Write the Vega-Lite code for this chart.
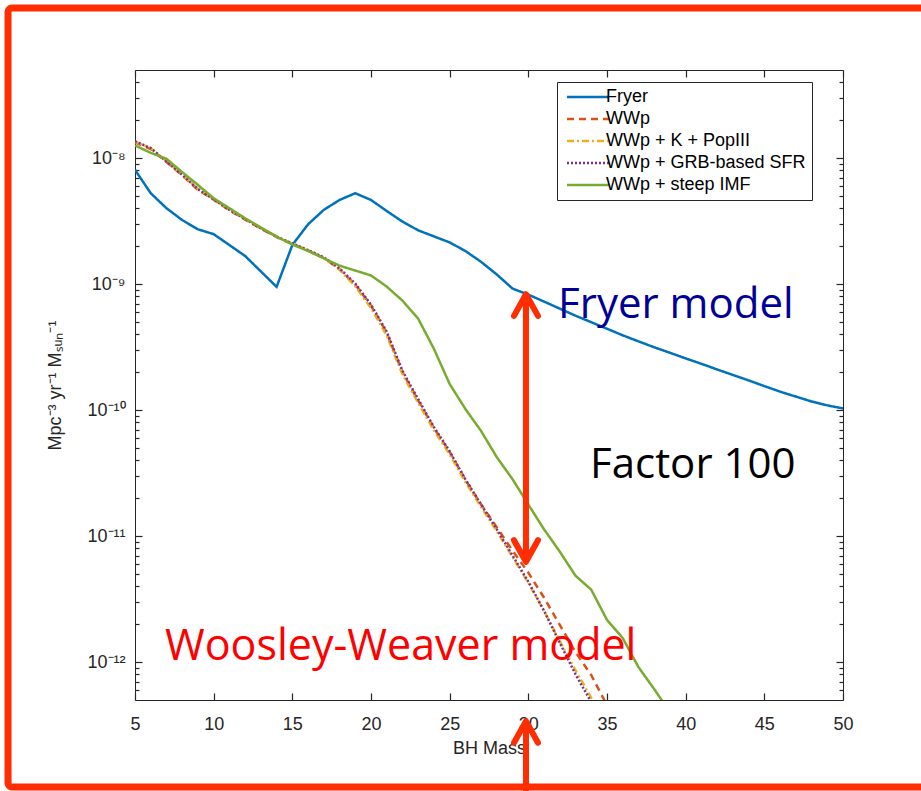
{
  "$schema": "https://vega.github.io/schema/vega-lite/v6.json",
  "width": 708,
  "height": 630,
  "autosize": {"type": "none"},
  "padding": {"left": 135, "top": 70, "right": 78, "bottom": 91},
  "background": "#ffffff",
  "config": {
    "view": {"stroke": null},
    "legend": {
      "strokeColor": "#262626", "fillColor": "#ffffff", "padding": 6,
      "labelFont": "Liberation Sans", "labelFontSize": 18, "labelColor": "#000000",
      "labelLimit": 400
    }
  },
  "datasets": {
    "curves": [
      {"model": "Fryer", "mass": 5, "rate": 8.07e-9},
      {"model": "Fryer", "mass": 6, "rate": 5.26e-9},
      {"model": "Fryer", "mass": 7, "rate": 4.0e-9},
      {"model": "Fryer", "mass": 8, "rate": 3.22e-9},
      {"model": "Fryer", "mass": 9, "rate": 2.72e-9},
      {"model": "Fryer", "mass": 10, "rate": 2.49e-9},
      {"model": "Fryer", "mass": 11, "rate": 2.04e-9},
      {"model": "Fryer", "mass": 12, "rate": 1.67e-9},
      {"model": "Fryer", "mass": 13, "rate": 1.26e-9},
      {"model": "Fryer", "mass": 14, "rate": 9.5e-10},
      {"model": "Fryer", "mass": 15, "rate": 2.04e-9},
      {"model": "Fryer", "mass": 16, "rate": 2.98e-9},
      {"model": "Fryer", "mass": 17, "rate": 3.88e-9},
      {"model": "Fryer", "mass": 18, "rate": 4.65e-9},
      {"model": "Fryer", "mass": 19, "rate": 5.26e-9},
      {"model": "Fryer", "mass": 20, "rate": 4.65e-9},
      {"model": "Fryer", "mass": 21, "rate": 3.8e-9},
      {"model": "Fryer", "mass": 22, "rate": 3.13e-9},
      {"model": "Fryer", "mass": 23, "rate": 2.67e-9},
      {"model": "Fryer", "mass": 24, "rate": 2.39e-9},
      {"model": "Fryer", "mass": 25, "rate": 2.14e-9},
      {"model": "Fryer", "mass": 26, "rate": 1.83e-9},
      {"model": "Fryer", "mass": 27, "rate": 1.5e-9},
      {"model": "Fryer", "mass": 28, "rate": 1.19e-9},
      {"model": "Fryer", "mass": 29, "rate": 9.2e-10},
      {"model": "Fryer", "mass": 30, "rate": 8.25e-10},
      {"model": "Fryer", "mass": 31, "rate": 7.26e-10},
      {"model": "Fryer", "mass": 32, "rate": 6.38e-10},
      {"model": "Fryer", "mass": 33, "rate": 5.61e-10},
      {"model": "Fryer", "mass": 34, "rate": 4.98e-10},
      {"model": "Fryer", "mass": 35, "rate": 4.42e-10},
      {"model": "Fryer", "mass": 36, "rate": 3.92e-10},
      {"model": "Fryer", "mass": 37, "rate": 3.51e-10},
      {"model": "Fryer", "mass": 38, "rate": 3.15e-10},
      {"model": "Fryer", "mass": 39, "rate": 2.85e-10},
      {"model": "Fryer", "mass": 40, "rate": 2.57e-10},
      {"model": "Fryer", "mass": 41, "rate": 2.33e-10},
      {"model": "Fryer", "mass": 42, "rate": 2.1e-10},
      {"model": "Fryer", "mass": 43, "rate": 1.9e-10},
      {"model": "Fryer", "mass": 44, "rate": 1.72e-10},
      {"model": "Fryer", "mass": 45, "rate": 1.55e-10},
      {"model": "Fryer", "mass": 46, "rate": 1.4e-10},
      {"model": "Fryer", "mass": 47, "rate": 1.28e-10},
      {"model": "Fryer", "mass": 48, "rate": 1.17e-10},
      {"model": "Fryer", "mass": 49, "rate": 1.09e-10},
      {"model": "Fryer", "mass": 50, "rate": 1.03e-10},

      {"model": "WWp", "mass": 5, "rate": 1.33e-8},
      {"model": "WWp", "mass": 6, "rate": 1.18e-8},
      {"model": "WWp", "mass": 7, "rate": 9.3e-9},
      {"model": "WWp", "mass": 8, "rate": 7.3e-9},
      {"model": "WWp", "mass": 9, "rate": 5.6e-9},
      {"model": "WWp", "mass": 10, "rate": 4.67e-9},
      {"model": "WWp", "mass": 11, "rate": 3.85e-9},
      {"model": "WWp", "mass": 12, "rate": 3.25e-9},
      {"model": "WWp", "mass": 13, "rate": 2.75e-9},
      {"model": "WWp", "mass": 14, "rate": 2.36e-9},
      {"model": "WWp", "mass": 15, "rate": 2.08e-9},
      {"model": "WWp", "mass": 16, "rate": 1.84e-9},
      {"model": "WWp", "mass": 17, "rate": 1.61e-9},
      {"model": "WWp", "mass": 18, "rate": 1.31e-9},
      {"model": "WWp", "mass": 19, "rate": 9.9e-10},
      {"model": "WWp", "mass": 20, "rate": 6.75e-10},
      {"model": "WWp", "mass": 21, "rate": 4.1e-10},
      {"model": "WWp", "mass": 22, "rate": 2.0e-10},
      {"model": "WWp", "mass": 23, "rate": 1.19e-10},
      {"model": "WWp", "mass": 24, "rate": 7.2e-11},
      {"model": "WWp", "mass": 25, "rate": 4.65e-11},
      {"model": "WWp", "mass": 26, "rate": 2.8e-11},
      {"model": "WWp", "mass": 27, "rate": 1.78e-11},
      {"model": "WWp", "mass": 28, "rate": 1.17e-11},
      {"model": "WWp", "mass": 29, "rate": 7.66e-12},
      {"model": "WWp", "mass": 30, "rate": 5.12e-12},
      {"model": "WWp", "mass": 31, "rate": 3.24e-12},
      {"model": "WWp", "mass": 32, "rate": 1.97e-12},
      {"model": "WWp", "mass": 33, "rate": 1.2e-12},
      {"model": "WWp", "mass": 34, "rate": 7.87e-13},
      {"model": "WWp", "mass": 35, "rate": 4.54e-13},

      {"model": "WWp + K + PopIII", "mass": 5, "rate": 1.35e-8},
      {"model": "WWp + K + PopIII", "mass": 6, "rate": 1.2e-8},
      {"model": "WWp + K + PopIII", "mass": 7, "rate": 9.45e-9},
      {"model": "WWp + K + PopIII", "mass": 8, "rate": 7.4e-9},
      {"model": "WWp + K + PopIII", "mass": 9, "rate": 5.7e-9},
      {"model": "WWp + K + PopIII", "mass": 10, "rate": 4.72e-9},
      {"model": "WWp + K + PopIII", "mass": 11, "rate": 3.9e-9},
      {"model": "WWp + K + PopIII", "mass": 12, "rate": 3.29e-9},
      {"model": "WWp + K + PopIII", "mass": 13, "rate": 2.78e-9},
      {"model": "WWp + K + PopIII", "mass": 14, "rate": 2.38e-9},
      {"model": "WWp + K + PopIII", "mass": 15, "rate": 2.1e-9},
      {"model": "WWp + K + PopIII", "mass": 16, "rate": 1.86e-9},
      {"model": "WWp + K + PopIII", "mass": 17, "rate": 1.62e-9},
      {"model": "WWp + K + PopIII", "mass": 18, "rate": 1.3e-9},
      {"model": "WWp + K + PopIII", "mass": 19, "rate": 9.6e-10},
      {"model": "WWp + K + PopIII", "mass": 20, "rate": 6.45e-10},
      {"model": "WWp + K + PopIII", "mass": 21, "rate": 3.9e-10},
      {"model": "WWp + K + PopIII", "mass": 22, "rate": 1.92e-10},
      {"model": "WWp + K + PopIII", "mass": 23, "rate": 1.14e-10},
      {"model": "WWp + K + PopIII", "mass": 24, "rate": 6.9e-11},
      {"model": "WWp + K + PopIII", "mass": 25, "rate": 4.45e-11},
      {"model": "WWp + K + PopIII", "mass": 26, "rate": 2.68e-11},
      {"model": "WWp + K + PopIII", "mass": 27, "rate": 1.7e-11},
      {"model": "WWp + K + PopIII", "mass": 28, "rate": 1.09e-11},
      {"model": "WWp + K + PopIII", "mass": 29, "rate": 6.8e-12},
      {"model": "WWp + K + PopIII", "mass": 30, "rate": 4.25e-12},
      {"model": "WWp + K + PopIII", "mass": 31, "rate": 2.55e-12},
      {"model": "WWp + K + PopIII", "mass": 32, "rate": 1.46e-12},
      {"model": "WWp + K + PopIII", "mass": 33, "rate": 8.6e-13},
      {"model": "WWp + K + PopIII", "mass": 34, "rate": 5.2e-13},
      {"model": "WWp + K + PopIII", "mass": 35, "rate": 3.1e-13},

      {"model": "WWp + GRB-based SFR", "mass": 5, "rate": 1.36e-8},
      {"model": "WWp + GRB-based SFR", "mass": 6, "rate": 1.2e-8},
      {"model": "WWp + GRB-based SFR", "mass": 7, "rate": 9.4e-9},
      {"model": "WWp + GRB-based SFR", "mass": 8, "rate": 7.36e-9},
      {"model": "WWp + GRB-based SFR", "mass": 9, "rate": 5.66e-9},
      {"model": "WWp + GRB-based SFR", "mass": 10, "rate": 4.71e-9},
      {"model": "WWp + GRB-based SFR", "mass": 11, "rate": 3.88e-9},
      {"model": "WWp + GRB-based SFR", "mass": 12, "rate": 3.28e-9},
      {"model": "WWp + GRB-based SFR", "mass": 13, "rate": 2.77e-9},
      {"model": "WWp + GRB-based SFR", "mass": 14, "rate": 2.38e-9},
      {"model": "WWp + GRB-based SFR", "mass": 15, "rate": 2.1e-9},
      {"model": "WWp + GRB-based SFR", "mass": 16, "rate": 1.86e-9},
      {"model": "WWp + GRB-based SFR", "mass": 17, "rate": 1.63e-9},
      {"model": "WWp + GRB-based SFR", "mass": 18, "rate": 1.33e-9},
      {"model": "WWp + GRB-based SFR", "mass": 19, "rate": 1.01e-9},
      {"model": "WWp + GRB-based SFR", "mass": 20, "rate": 6.87e-10},
      {"model": "WWp + GRB-based SFR", "mass": 21, "rate": 4.19e-10},
      {"model": "WWp + GRB-based SFR", "mass": 22, "rate": 2.05e-10},
      {"model": "WWp + GRB-based SFR", "mass": 23, "rate": 1.22e-10},
      {"model": "WWp + GRB-based SFR", "mass": 24, "rate": 7.33e-11},
      {"model": "WWp + GRB-based SFR", "mass": 25, "rate": 4.71e-11},
      {"model": "WWp + GRB-based SFR", "mass": 26, "rate": 2.82e-11},
      {"model": "WWp + GRB-based SFR", "mass": 27, "rate": 1.78e-11},
      {"model": "WWp + GRB-based SFR", "mass": 28, "rate": 1.13e-11},
      {"model": "WWp + GRB-based SFR", "mass": 29, "rate": 7.0e-12},
      {"model": "WWp + GRB-based SFR", "mass": 30, "rate": 4.34e-12},
      {"model": "WWp + GRB-based SFR", "mass": 31, "rate": 2.55e-12},
      {"model": "WWp + GRB-based SFR", "mass": 32, "rate": 1.42e-12},
      {"model": "WWp + GRB-based SFR", "mass": 33, "rate": 8.0e-13},
      {"model": "WWp + GRB-based SFR", "mass": 34, "rate": 4.8e-13},

      {"model": "WWp + steep IMF", "mass": 5, "rate": 1.26e-8},
      {"model": "WWp + steep IMF", "mass": 6, "rate": 1.1e-8},
      {"model": "WWp + steep IMF", "mass": 7, "rate": 9.87e-9},
      {"model": "WWp + steep IMF", "mass": 8, "rate": 7.73e-9},
      {"model": "WWp + steep IMF", "mass": 9, "rate": 6.12e-9},
      {"model": "WWp + steep IMF", "mass": 10, "rate": 4.8e-9},
      {"model": "WWp + steep IMF", "mass": 11, "rate": 4.0e-9},
      {"model": "WWp + steep IMF", "mass": 12, "rate": 3.33e-9},
      {"model": "WWp + steep IMF", "mass": 13, "rate": 2.81e-9},
      {"model": "WWp + steep IMF", "mass": 14, "rate": 2.38e-9},
      {"model": "WWp + steep IMF", "mass": 15, "rate": 2.06e-9},
      {"model": "WWp + steep IMF", "mass": 16, "rate": 1.83e-9},
      {"model": "WWp + steep IMF", "mass": 17, "rate": 1.6e-9},
      {"model": "WWp + steep IMF", "mass": 18, "rate": 1.4e-9},
      {"model": "WWp + steep IMF", "mass": 19, "rate": 1.28e-9},
      {"model": "WWp + steep IMF", "mass": 20, "rate": 1.17e-9},
      {"model": "WWp + steep IMF", "mass": 21, "rate": 9.55e-10},
      {"model": "WWp + steep IMF", "mass": 22, "rate": 7.39e-10},
      {"model": "WWp + steep IMF", "mass": 23, "rate": 5.31e-10},
      {"model": "WWp + steep IMF", "mass": 24, "rate": 3.06e-10},
      {"model": "WWp + steep IMF", "mass": 25, "rate": 1.61e-10},
      {"model": "WWp + steep IMF", "mass": 26, "rate": 1.02e-10},
      {"model": "WWp + steep IMF", "mass": 27, "rate": 6.81e-11},
      {"model": "WWp + steep IMF", "mass": 28, "rate": 4.22e-11},
      {"model": "WWp + steep IMF", "mass": 29, "rate": 2.82e-11},
      {"model": "WWp + steep IMF", "mass": 30, "rate": 1.78e-11},
      {"model": "WWp + steep IMF", "mass": 31, "rate": 1.13e-11},
      {"model": "WWp + steep IMF", "mass": 32, "rate": 7.52e-12},
      {"model": "WWp + steep IMF", "mass": 33, "rate": 4.84e-12},
      {"model": "WWp + steep IMF", "mass": 34, "rate": 3.75e-12},
      {"model": "WWp + steep IMF", "mass": 35, "rate": 2.16e-12},
      {"model": "WWp + steep IMF", "mass": 36, "rate": 1.55e-12},
      {"model": "WWp + steep IMF", "mass": 37, "rate": 9.12e-13},
      {"model": "WWp + steep IMF", "mass": 38, "rate": 6.1e-13},
      {"model": "WWp + steep IMF", "mass": 39, "rate": 4.0e-13}
    ],
    "notes": [
      {"label": "Fryer model", "mass": 31.89, "rate": 5.37e-10},
      {"label": "Factor 100", "mass": 33.92, "rate": 2.88e-11},
      {"label": "Woosley-Weaver model", "mass": 6.91, "rate": 1.04e-12}
    ],
    "arrows": [
      {"mass": 29.85, "top": 8.3e-10, "bottom": 6.25e-12},
      {"mass": 29.85, "top": 3.4e-13, "bottom": 8e-14}
    ],
    "heads": [
      {"mass": 29.85, "rate": 8.3e-10, "dir": "up"},
      {"mass": 29.85, "rate": 6.25e-12, "dir": "down"},
      {"mass": 29.85, "rate": 3.4e-13, "dir": "up"}
    ]
  },
  "resolve": {"axis": {"x": "independent", "y": "independent"}},
  "layer": [
    {
      "data": {"values": [{}]},
      "mark": {"type": "rect", "fill": null, "stroke": "#FF2D00", "strokeWidth": 7, "cornerRadius": 4},
      "encoding": {
        "x": {"datum": -3.07, "type": "quantitative", "scale": {"domain": [5, 50], "nice": false, "zero": false}, "axis": null},
        "x2": {"datum": 60},
        "y": {"datum": 1.55e-7, "type": "quantitative", "scale": {"type": "log", "domain": [5e-13, 5e-8], "nice": false}, "axis": null},
        "y2": {"datum": 1.02e-13}
      }
    },
    {
      "data": {"name": "curves"},
      "mark": {"type": "line", "clip": true, "strokeWidth": 2.5},
      "encoding": {
        "x": {"field": "mass", "type": "quantitative",
          "scale": {"domain": [5, 50], "nice": false, "zero": false},
          "axis": {"orient": "bottom", "values": [5, 10, 15, 20, 25, 30, 35, 40, 45, 50],
            "grid": false, "domainColor": "#262626", "domainWidth": 1, "tickColor": "#262626", "tickWidth": 1.2, "tickSize": -7,
            "labelFont": "Liberation Sans", "labelFontSize": 18, "labelColor": "#262626", "labelPadding": 22, "labelFlush": false, "labelOverlap": false,
            "title": "BH Mass", "titleFont": "Liberation Sans", "titleFontSize": 18, "titleFontWeight": "normal", "titleColor": "#262626", "titlePadding": 6}},
        "y": {"field": "rate", "type": "quantitative",
          "scale": {"type": "log", "domain": [5e-13, 5e-8], "nice": false},
          "axis": {"orient": "left",
            "values": [6e-13, 7e-13, 8e-13, 9e-13, 1e-12, 2e-12, 3e-12, 4e-12, 5e-12, 6e-12, 7e-12, 8e-12, 9e-12, 1e-11, 2e-11, 3e-11, 4e-11, 5e-11, 6e-11, 7e-11, 8e-11, 9e-11, 1e-10, 2e-10, 3e-10, 4e-10, 5e-10, 6e-10, 7e-10, 8e-10, 9e-10, 1e-9, 2e-9, 3e-9, 4e-9, 5e-9, 6e-9, 7e-9, 8e-9, 9e-9, 1e-8, 2e-8, 3e-8, 4e-8],
            "grid": false, "domainColor": "#262626", "domainWidth": 1, "tickColor": "#262626", "tickWidth": 1.2,
            "tickSize": {"condition": {"test": "abs(log(datum.value)/LN10 - round(log(datum.value)/LN10)) < 1e-6", "value": -7}, "value": -4},
            "labelExpr": "abs(log(datum.value)/LN10 - round(log(datum.value)/LN10)) < 1e-6 ? ['10⁻¹²','10⁻¹¹','10⁻¹⁰','10⁻⁹','10⁻⁸'][round(log(datum.value)/LN10) + 12] : ''",
            "labelFont": "Liberation Sans", "labelFontSize": 18, "labelColor": "#262626", "labelPadding": 17, "labelFlush": false, "labelOverlap": false,
            "title": "Mpc⁻³ yr⁻¹ Mₛᵤₙ⁻¹", "titleFont": "Liberation Sans", "titleFontSize": 18, "titleFontWeight": "normal", "titleColor": "#262626", "titlePadding": 22}},
        "color": {"field": "model", "type": "nominal",
          "scale": {"domain": ["Fryer", "WWp", "WWp + K + PopIII", "WWp + GRB-based SFR", "WWp + steep IMF"],
                    "range": ["#0072BD", "#D95319", "#EDB120", "#7E2F8E", "#77AC30"]},
          "legend": {"orient": "none", "legendX": 422, "legendY": 12, "title": null,
            "symbolType": "M-4.2,0L4.2,0", "symbolSize": 100, "symbolStrokeWidth": 2.5, "symbolOffset": 16, "labelOffset": 9, "rowPadding": 4}},
        "strokeDash": {"field": "model", "type": "nominal",
          "scale": {"domain": ["Fryer", "WWp", "WWp + K + PopIII", "WWp + GRB-based SFR", "WWp + steep IMF"],
                    "range": [[1, 0], [7, 5], [7, 3, 2, 3], [2, 2], [1, 0]]},
          "legend": {"orient": "none", "legendX": 422, "legendY": 12, "title": null,
            "symbolType": "M-4.2,0L4.2,0", "symbolSize": 100, "symbolStrokeWidth": 2.5, "symbolOffset": 16, "labelOffset": 9, "rowPadding": 4}}
      }
    },
    {
      "data": {"name": "notes"},
      "transform": [{"filter": "datum.label == 'Fryer model'"}],
      "mark": {"type": "text", "align": "left", "baseline": "alphabetic", "font": "Open Sans", "fontSize": 42, "color": "#000099"},
      "encoding": {
        "x": {"field": "mass", "type": "quantitative", "scale": {"domain": [5, 50], "nice": false, "zero": false}, "axis": null},
        "y": {"field": "rate", "type": "quantitative", "scale": {"type": "log", "domain": [5e-13, 5e-8], "nice": false}, "axis": null},
        "text": {"field": "label"}
      }
    },
    {
      "data": {"name": "notes"},
      "transform": [{"filter": "datum.label == 'Factor 100'"}],
      "mark": {"type": "text", "align": "left", "baseline": "alphabetic", "font": "Open Sans", "fontSize": 42, "color": "#000000"},
      "encoding": {
        "x": {"field": "mass", "type": "quantitative", "scale": {"domain": [5, 50], "nice": false, "zero": false}, "axis": null},
        "y": {"field": "rate", "type": "quantitative", "scale": {"type": "log", "domain": [5e-13, 5e-8], "nice": false}, "axis": null},
        "text": {"field": "label"}
      }
    },
    {
      "data": {"name": "notes"},
      "transform": [{"filter": "datum.label == 'Woosley-Weaver model'"}],
      "mark": {"type": "text", "align": "left", "baseline": "alphabetic", "font": "Open Sans", "fontSize": 43, "color": "#FF0000"},
      "encoding": {
        "x": {"field": "mass", "type": "quantitative", "scale": {"domain": [5, 50], "nice": false, "zero": false}, "axis": null},
        "y": {"field": "rate", "type": "quantitative", "scale": {"type": "log", "domain": [5e-13, 5e-8], "nice": false}, "axis": null},
        "text": {"field": "label"}
      }
    },
    {
      "data": {"name": "arrows"},
      "mark": {"type": "rule", "color": "#FF2D00", "strokeWidth": 6, "strokeCap": "butt"},
      "encoding": {
        "x": {"field": "mass", "type": "quantitative",
          "scale": {"domain": [5, 50], "nice": false, "zero": false},
          "axis": {"orient": "top", "values": [5, 10, 15, 20, 25, 30, 35, 40, 45, 50],
            "grid": false, "domainColor": "#262626", "domainWidth": 1, "tickColor": "#262626", "tickWidth": 1.2, "tickSize": -7,
            "labels": false, "title": null}},
        "y": {"field": "top", "type": "quantitative",
          "scale": {"type": "log", "domain": [5e-13, 5e-8], "nice": false},
          "axis": {"orient": "right",
            "values": [6e-13, 7e-13, 8e-13, 9e-13, 1e-12, 2e-12, 3e-12, 4e-12, 5e-12, 6e-12, 7e-12, 8e-12, 9e-12, 1e-11, 2e-11, 3e-11, 4e-11, 5e-11, 6e-11, 7e-11, 8e-11, 9e-11, 1e-10, 2e-10, 3e-10, 4e-10, 5e-10, 6e-10, 7e-10, 8e-10, 9e-10, 1e-9, 2e-9, 3e-9, 4e-9, 5e-9, 6e-9, 7e-9, 8e-9, 9e-9, 1e-8, 2e-8, 3e-8, 4e-8],
            "grid": false, "domainColor": "#262626", "domainWidth": 1, "tickColor": "#262626", "tickWidth": 1.2,
            "tickSize": {"condition": {"test": "abs(log(datum.value)/LN10 - round(log(datum.value)/LN10)) < 1e-6", "value": -7}, "value": -4},
            "labels": false, "title": null}},
        "y2": {"field": "bottom"}
      }
    },
    {
      "data": {"name": "heads"},
      "mark": {"type": "point", "filled": false, "color": "#FF2D00", "strokeWidth": 6, "size": 576, "opacity": 1, "strokeCap": "round", "strokeJoin": "round"},
      "encoding": {
        "x": {"field": "mass", "type": "quantitative", "scale": {"domain": [5, 50], "nice": false, "zero": false}, "axis": null},
        "y": {"field": "rate", "type": "quantitative", "scale": {"type": "log", "domain": [5e-13, 5e-8], "nice": false}, "axis": null},
        "shape": {"field": "dir", "type": "nominal",
          "scale": {"domain": ["up", "down"], "range": ["M-1,1.8L0,0L1,1.8", "M-1,-1.8L0,0L1,-1.8"]},
          "legend": null}
      }
    }
  ]
}
